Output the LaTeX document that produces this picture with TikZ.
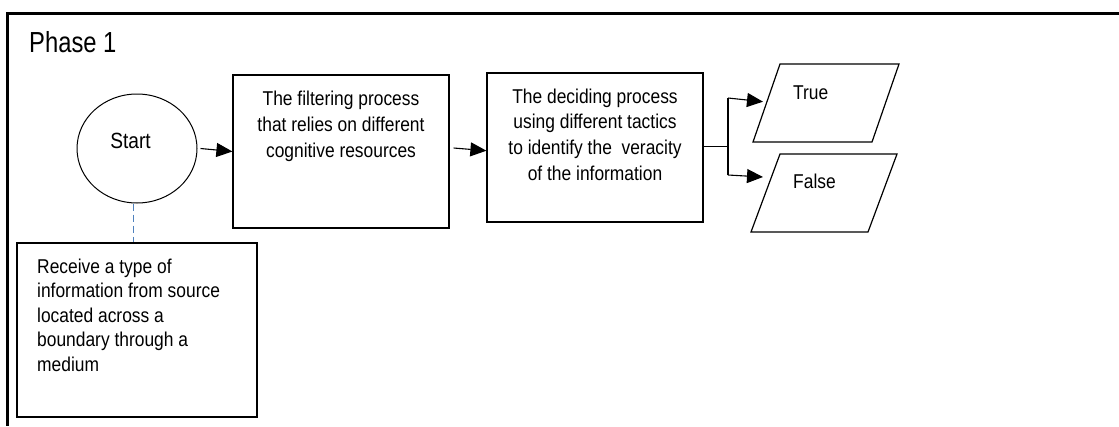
\documentclass[tikz,border=0pt]{standalone}
\usepackage{fontspec}
\setmainfont{Liberation Sans}
\newfontfamily\bodyfont[FakeStretch=0.87]{Liberation Sans}
\newfontfamily\titlefont[FakeStretch=0.82]{Liberation Sans}
\usetikzlibrary{arrows.meta,shapes.geometric}
\definecolor{linkblue}{RGB}{79,129,189}

\begin{document}
\begin{tikzpicture}[x=1pt,y=-1pt,
  procbox/.style={draw, line width=1.2pt, rectangle, inner sep=0pt},
  ioshape/.style={draw, line width=1.2pt, line join=miter},
  txt/.style={inner sep=0pt, font=\bodyfont\fontsize{20}{26}\selectfont},
  arr/.style={line width=1.1pt, -{Triangle[length=16pt,width=14pt]}},
  conn/.style={line width=1.1pt}]
\useasboundingbox (0,0) rectangle (1119,426);

% frame of the phase (open at the bottom and right)
\draw[line width=2.6pt] (1119,13.5) -- (7.5,13.5) -- (7.5,426);
\node[anchor=base west, inner sep=0pt, font=\titlefont\fontsize{29}{32}\selectfont]
  (phase) at (29,52) {Phase 1};

% start terminal
\node[draw, ellipse, line width=1pt, inner sep=0pt,
  minimum width=120pt, minimum height=109pt] (start) at (137,148.5) {};
\node[anchor=base, inner sep=0pt, font=\bodyfont\fontsize{22}{26}\selectfont]
  (starttxt) at (130.5,148) {Start};

% receiving note
\node[procbox, minimum width=240pt, minimum height=174pt] (recv) at (137,330) {};
\node[txt, anchor=north west, align=left, font=\bodyfont\fontsize{20}{24.5}\selectfont]
  (recvtxt) at (37,258.5) {Receive a type of\\information from source\\located across a\\boundary through a\\medium};

% filtering process
\node[procbox, minimum width=216pt, minimum height=153pt] (filter) at (341,151.5) {};
\node[txt, anchor=north, align=center] (filtertxt) at (341,90.5)
  {The filtering process\\that relies on different\\cognitive resources};

% deciding process
\node[procbox, minimum width=216pt, minimum height=149pt] (decide) at (595,147.5) {};
\node[txt, anchor=north, align=center, font=\bodyfont\fontsize{20}{25.7}\selectfont]
  (decidetxt) at (595,88.5)
  {The deciding process\\using different tactics\\to identify the~ veracity\\of the information};

% outcomes (data parallelograms)
\draw[ioshape] (780,64) -- (899,64) -- (872,142) -- (753,142) -- cycle;
\node[txt, anchor=base west] (truetxt) at (793,99) {True};
\coordinate (trueIn) at (763,101.7);
\draw[ioshape] (780,154) -- (897,154) -- (868,232) -- (751,232) -- cycle;
\node[txt, anchor=base west] (falsetxt) at (793,188) {False};
\coordinate (falseIn) at (763,177);

% connectors
\draw[linkblue, line width=1pt, dash pattern=on 7pt off 4pt]
  ([xshift=-4pt]start.south) -- ([xshift=-4pt]recv.north);
\draw[arr] ([xshift=3pt]start.east) -- (filter.west);
\draw[arr] ([shift={(4pt,3.5pt)}]filter.east) -- ([yshift=-3.2pt]decide.west);

\coordinate (br) at (728,146.5);
\coordinate (brT) at (728,98);
\coordinate (brF) at (728,175);
\draw[conn] (decide.east |- br) -- (br);
\draw[conn] (brT) -- (brF);
\draw[arr] (brT) -- (trueIn);
\draw[arr] (brF) -- (falseIn);
\end{tikzpicture}
\end{document}
